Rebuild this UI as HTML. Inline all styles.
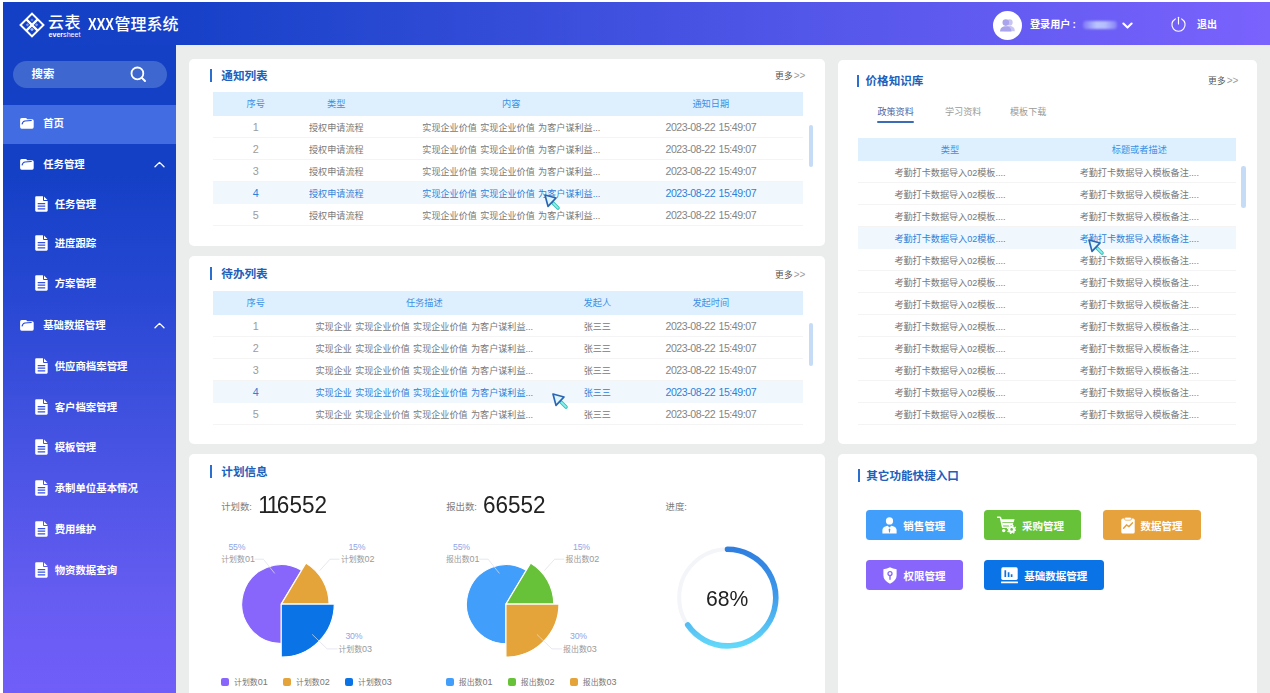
<!DOCTYPE html>
<html lang="zh-CN">
<head>
<meta charset="utf-8">
<title>XXX管理系统</title>
<style>
*{box-sizing:border-box;margin:0;padding:0}
html,body{width:1270px;height:693px;overflow:hidden;background:#fff}
body{font-family:"Liberation Sans","Noto Sans CJK SC",sans-serif;position:relative;color:#666}
.abs{position:absolute}
#app{position:absolute;left:3px;top:2px;width:1267px;height:691px;background:#ebecec;overflow:hidden}
/* header */
#hdr{position:absolute;left:0;top:0;width:1267px;height:43px;background:linear-gradient(90deg,rgb(20,64,198) 0%,rgb(21,64,199) 13%,rgb(42,73,211) 31.3%,rgb(82,86,233) 63%,rgb(122,98,253) 100%)}
#hdr .title{position:absolute;left:85.2px;top:11.4px;height:24px;line-height:24px;color:#fff;font-size:16px;font-weight:500;white-space:nowrap;letter-spacing:0}
#hdr .title .x{display:inline-block;font-size:16.9px;transform:scaleX(.767);transform-origin:left bottom;margin-right:-7.6px;font-weight:700;line-height:24px;vertical-align:baseline}
#hdr .brand{position:absolute;left:45px;top:11.5px;color:#fff;font-size:16px;font-weight:500;line-height:18px;letter-spacing:.6px;white-space:nowrap}
#hdr .brand2{position:absolute;left:45.5px;top:29.9px;color:#fff;font-size:7.1px;line-height:7px;font-weight:700;white-space:nowrap;letter-spacing:0}
#hdr .brand2 i{font-style:normal;font-weight:400}
#hdr .avatar{position:absolute;left:989.6px;top:8.5px;width:29px;height:29px;border-radius:50%;background:#fff}
#hdr .user{position:absolute;left:1027px;top:14px;line-height:18px;font-size:10.1px;font-weight:700;color:#fff;white-space:nowrap}
#hdr .uname{position:absolute;left:1079.5px;top:19.2px;width:34px;height:7.5px;border-radius:3px;background:linear-gradient(90deg,rgba(190,200,255,.25),rgba(200,215,255,.85) 40%,rgba(200,215,255,.8) 65%,rgba(190,200,255,.3));filter:blur(1.2px)}
#hdr .uname span{font-size:1px;color:transparent}
#hdr .logout{position:absolute;left:1194px;top:14px;line-height:18px;font-size:10px;font-weight:700;color:#fff;white-space:nowrap}
/* sidebar */
#side{position:absolute;left:0;top:43px;width:172.5px;height:648px;background:linear-gradient(180deg,rgb(20,64,198) 0%,rgb(20,64,198) 20%,rgb(40,72,211) 39.4%,rgb(73,84,228) 64%,rgb(102,92,242) 85.6%,rgb(113,94,249) 100%)}
#side .search{position:absolute;left:10px;top:16.2px;width:153.5px;height:26.9px;border-radius:13.5px;background:#3e67cf}
#side .search span{position:absolute;left:18.5px;top:4px;line-height:18px;font-size:11.4px;font-weight:700;color:#fff}
#side .active{position:absolute;left:0;top:60.2px;width:172.5px;height:39px;background:#416ce2}
.mi{position:absolute;left:0;width:172px;height:20px;line-height:20px;color:#fff;font-size:10.4px;font-weight:700;white-space:nowrap}
.mi.l1 span{position:absolute;left:40.2px;top:.8px}
.mi.l2 span{position:absolute;left:51.7px;top:.8px}
.mi svg{position:absolute}
/* cards */
.card{position:absolute;background:#fff;border-radius:5px}
.ct{position:absolute;left:21px;top:10px;height:14px;line-height:14px;font-size:11.6px;font-weight:700;color:#2060bb;white-space:nowrap;padding-left:11.3px}
.ct:before{content:"";position:absolute;left:0;top:0.5px;width:2px;height:12.5px;background:#2a6fd0}
.more{position:absolute;font-size:8.7px;line-height:12px;color:#555;white-space:nowrap;letter-spacing:.25px;margin:.8px 0 0 .6px}
.more i{font-style:normal;font-size:10px;color:#9c9c9c;letter-spacing:-.1px;margin-left:.8px}

/* tables */
.tb{position:absolute;left:24.3px;width:590px}
.tr{display:flex;height:22px;line-height:24.4px;font-size:9.1px;color:#787878;border-bottom:1px solid #f4f4f4;word-spacing:.8px;white-space:nowrap}
.tr.h{height:23.8px;line-height:24.3px;background:#def0fe;color:#3d8fe4;border-bottom:0;font-size:9.2px}
.tr.on{background:#f0f8fe;color:#2f80d6;border-bottom-color:#f0f8fe}
.tr div{text-align:center;flex:none;overflow:hidden}
.tr .n{color:#9c9c9c;font-size:10.8px;line-height:23.2px}
.tr.on .n{color:#2f80d6}
.tr .d{font-size:10.6px;letter-spacing:-0.45px;color:#858585;line-height:22.2px}
.tr.on .d{color:#2f80d6}
.sb{position:absolute;width:4.6px;border-radius:2.3px;background:#c6dbf6}
.cur{position:absolute}

/* card3 */
.lab{position:absolute;font-size:9.4px;line-height:12px;color:#7d7d7d;white-space:nowrap}
.big{position:absolute;font-size:23.6px;line-height:24px;color:#222;white-space:nowrap;transform:scaleX(.955);transform-origin:left bottom}
.big i{font-style:normal;letter-spacing:-2.5px;margin-left:-0.8px}
.pl{position:absolute;font-size:7.9px;line-height:10px;white-space:nowrap;color:#9a9a9a}
.pl.p{color:#8fa6e6;font-size:8.7px;letter-spacing:-.2px}
.pl b,.lg b{font-weight:400;font-size:9px}
.lg{position:absolute;font-size:7.9px;line-height:10px;white-space:nowrap;color:#777;padding-left:12.8px}
.lg:before{content:"";position:absolute;left:0;top:1px;width:8px;height:8px;border-radius:2px;background:var(--c)}

/* card4/5 */
.ct2{position:absolute;height:14px;line-height:14px;font-size:11.6px;font-weight:700;color:#2060bb;white-space:nowrap;padding-left:8.3px}
.ct2:before{content:"";position:absolute;left:0;top:.5px;width:2px;height:12.6px;background:#2a6fd0}
.tab{position:absolute;top:46px;font-size:9.1px;line-height:12px;color:#9b9b9b;white-space:nowrap}
.tab.on{color:#3f69ad}
.tab.on:after{content:"";position:absolute;left:0;right:0;top:15.3px;height:2px;border-radius:1px;background:#3b6cb6}
.btn{position:absolute;height:30.2px;border-radius:3.5px;color:#fff;font-size:10.5px;font-weight:700;line-height:30.2px;white-space:nowrap}
.btn span{position:absolute;top:0.9px}
.btn svg{margin-top:.5px}
.btn svg{position:absolute}
</style>
</head>
<body>
<div id="app">
  <div id="hdr">
    <svg class="abs" style="left:14.5px;top:8.8px" width="28" height="28" viewBox="-14 -14 28 28">
      <g transform="rotate(45)">
        <rect x="-8.1" y="-8.1" width="16.2" height="16.2" fill="none" stroke="#fff" stroke-width="2"/>
        <path d="M0 -8.3V8.3M-8.3 0H8.3" stroke="#fff" stroke-width="2.2"/>
        <rect x="1.9" y="1.9" width="2.6" height="2.6" fill="#dfe6ff" opacity=".75"/>
        <rect x="-4.5" y="1.9" width="2.4" height="2.4" fill="#dfe6ff" opacity=".55" transform="translate(0 0)"/>
        <rect x="1.9" y="-4.5" width="2.4" height="2.4" fill="#dfe6ff" opacity=".55"/>
        <rect x="-4.6" y="-4.6" width="2.2" height="2.2" fill="#dfe6ff" opacity=".35"/>
      </g>
    </svg>
    <div class="brand">云表</div>
    <div class="brand2">ever<i>sheet</i></div>
    <div class="title"><span class="x">XXX</span>管理系统</div>
    <div class="avatar">
      <svg class="abs" style="left:6px;top:6.5px" width="17" height="16" viewBox="0 0 17 16">
        <circle cx="10.6" cy="5.4" r="3.1" fill="#c9c5f3"/>
        <path d="M5.2 14.2c0-3.4 2.3-5.1 5.4-5.1s5.2 1.7 5.2 5.1z" fill="#c9c5f3"/>
        <circle cx="6.8" cy="5.6" r="3.3" fill="#aaa4ec"/>
        <path d="M1 14.6c0-3.6 2.5-5.4 5.8-5.4s5.6 1.8 5.6 5.4z" fill="#aaa4ec"/>
      </svg>
    </div>
    <div class="user">登录用户<span style="margin-left:2.2px">:</span></div>
    <div class="uname"><span>admin</span></div>
    <svg class="abs" style="left:1118.5px;top:19.5px" width="11" height="8" viewBox="0 0 11 8"><path d="M1.4 1.6L5.5 5.6L9.6 1.6" fill="none" stroke="#fff" stroke-width="2.1" stroke-linecap="round" stroke-linejoin="round"/></svg>
    <svg class="abs" style="left:1167.2px;top:13.9px" width="17" height="17" viewBox="0 0 17 17"><path d="M5.3 2.9A6.6 6.6 0 1 0 11.7 2.9" fill="none" stroke="#fff" stroke-width="1.15" stroke-linecap="round"/><path d="M8.5 1.2V8" stroke="#fff" stroke-width="1.15" stroke-linecap="round"/></svg>
    <div class="logout">退出</div>
  </div>
  <div id="side">
    <div class="search"><span>搜索</span><svg class="abs" style="left:117px;top:5px" width="17" height="17" viewBox="0 0 17 17"><circle cx="7.4" cy="7.4" r="5.9" fill="none" stroke="#fff" stroke-width="1.8"/><path d="M11.9 11.9L15 15" stroke="#fff" stroke-width="2" stroke-linecap="round"/></svg></div>
    <div class="active"></div>
    <div class="mi l1" style="top:68.6px"><svg style="left:17.4px;top:4.6px" width="14" height="11" viewBox="0 0 14 11"><path d="M1.6 0.1H5.6Q6.3 0.1 6.7 0.6L7.3 1.3H12.2Q13.7 1.3 13.7 2.8V9.1Q13.7 10.7 12.2 10.7H1.6Q0.1 10.7 0.1 9.1V1.6Q0.1 0.1 1.6 0.1Z" fill="#fff"/><path d="M2.1 6Q2.9 3.1 4.9 2.9L11.3 2.5" fill="none" stroke="#2447d8" stroke-width="1.05" stroke-linecap="round"/></svg><span>首页</span></div>
    <div class="mi l1" style="top:109.3px"><svg style="left:17.4px;top:4.6px" width="14" height="11" viewBox="0 0 14 11"><path d="M1.6 0.1H5.6Q6.3 0.1 6.7 0.6L7.3 1.3H12.2Q13.7 1.3 13.7 2.8V9.1Q13.7 10.7 12.2 10.7H1.6Q0.1 10.7 0.1 9.1V1.6Q0.1 0.1 1.6 0.1Z" fill="#fff"/><path d="M2.1 6Q2.9 3.1 4.9 2.9L11.3 2.5" fill="none" stroke="#2447d8" stroke-width="1.05" stroke-linecap="round"/></svg><span>任务管理</span><svg style="left:151px;top:6.5px" width="11" height="7" viewBox="0 0 11 7"><path d="M1 5.8L5.5 1.4L10 5.8" fill="none" stroke="#fff" stroke-width="1.3" stroke-linecap="round" stroke-linejoin="round"/></svg></div>
    <div class="mi l2" style="top:149.3px"><svg style="left:31.7px;top:1.8px" width="13" height="16" viewBox="0 0 13 16"><path d="M1.3 0.2H8V3.9Q8 4.9 9 4.9H12.7V14.6Q12.7 15.7 11.6 15.7H1.3Q0.2 15.7 0.2 14.6V1.3Q0.2 0.2 1.3 0.2ZM9 0.4L12.5 3.9H9Z" fill="#fff"/><path d="M2.7 7.6H10.2M2.7 10.2H10.2M2.7 12.8H10.2" stroke="#3550e2" stroke-width="1.25"/></svg><span>任务管理</span></div>
    <div class="mi l2" style="top:188.6px"><svg style="left:31.7px;top:1.8px" width="13" height="16" viewBox="0 0 13 16"><path d="M1.3 0.2H8V3.9Q8 4.9 9 4.9H12.7V14.6Q12.7 15.7 11.6 15.7H1.3Q0.2 15.7 0.2 14.6V1.3Q0.2 0.2 1.3 0.2ZM9 0.4L12.5 3.9H9Z" fill="#fff"/><path d="M2.7 7.6H10.2M2.7 10.2H10.2M2.7 12.8H10.2" stroke="#3550e2" stroke-width="1.25"/></svg><span>进度跟踪</span></div>
    <div class="mi l2" style="top:228.6px"><svg style="left:31.7px;top:1.8px" width="13" height="16" viewBox="0 0 13 16"><path d="M1.3 0.2H8V3.9Q8 4.9 9 4.9H12.7V14.6Q12.7 15.7 11.6 15.7H1.3Q0.2 15.7 0.2 14.6V1.3Q0.2 0.2 1.3 0.2ZM9 0.4L12.5 3.9H9Z" fill="#fff"/><path d="M2.7 7.6H10.2M2.7 10.2H10.2M2.7 12.8H10.2" stroke="#3550e2" stroke-width="1.25"/></svg><span>方案管理</span></div>
    <div class="mi l1" style="top:270.3px"><svg style="left:17.4px;top:4.6px" width="14" height="11" viewBox="0 0 14 11"><path d="M1.6 0.1H5.6Q6.3 0.1 6.7 0.6L7.3 1.3H12.2Q13.7 1.3 13.7 2.8V9.1Q13.7 10.7 12.2 10.7H1.6Q0.1 10.7 0.1 9.1V1.6Q0.1 0.1 1.6 0.1Z" fill="#fff"/><path d="M2.1 6Q2.9 3.1 4.9 2.9L11.3 2.5" fill="none" stroke="#2447d8" stroke-width="1.05" stroke-linecap="round"/></svg><span>基础数据管理</span><svg style="left:151px;top:6.5px" width="11" height="7" viewBox="0 0 11 7"><path d="M1 5.8L5.5 1.4L10 5.8" fill="none" stroke="#fff" stroke-width="1.3" stroke-linecap="round" stroke-linejoin="round"/></svg></div>
    <div class="mi l2" style="top:311.0px"><svg style="left:31.7px;top:1.8px" width="13" height="16" viewBox="0 0 13 16"><path d="M1.3 0.2H8V3.9Q8 4.9 9 4.9H12.7V14.6Q12.7 15.7 11.6 15.7H1.3Q0.2 15.7 0.2 14.6V1.3Q0.2 0.2 1.3 0.2ZM9 0.4L12.5 3.9H9Z" fill="#fff"/><path d="M2.7 7.6H10.2M2.7 10.2H10.2M2.7 12.8H10.2" stroke="#3550e2" stroke-width="1.25"/></svg><span>供应商档案管理</span></div>
    <div class="mi l2" style="top:351.8px"><svg style="left:31.7px;top:1.8px" width="13" height="16" viewBox="0 0 13 16"><path d="M1.3 0.2H8V3.9Q8 4.9 9 4.9H12.7V14.6Q12.7 15.7 11.6 15.7H1.3Q0.2 15.7 0.2 14.6V1.3Q0.2 0.2 1.3 0.2ZM9 0.4L12.5 3.9H9Z" fill="#fff"/><path d="M2.7 7.6H10.2M2.7 10.2H10.2M2.7 12.8H10.2" stroke="#3550e2" stroke-width="1.25"/></svg><span>客户档案管理</span></div>
    <div class="mi l2" style="top:392.4px"><svg style="left:31.7px;top:1.8px" width="13" height="16" viewBox="0 0 13 16"><path d="M1.3 0.2H8V3.9Q8 4.9 9 4.9H12.7V14.6Q12.7 15.7 11.6 15.7H1.3Q0.2 15.7 0.2 14.6V1.3Q0.2 0.2 1.3 0.2ZM9 0.4L12.5 3.9H9Z" fill="#fff"/><path d="M2.7 7.6H10.2M2.7 10.2H10.2M2.7 12.8H10.2" stroke="#3550e2" stroke-width="1.25"/></svg><span>模板管理</span></div>
    <div class="mi l2" style="top:433.2px"><svg style="left:31.7px;top:1.8px" width="13" height="16" viewBox="0 0 13 16"><path d="M1.3 0.2H8V3.9Q8 4.9 9 4.9H12.7V14.6Q12.7 15.7 11.6 15.7H1.3Q0.2 15.7 0.2 14.6V1.3Q0.2 0.2 1.3 0.2ZM9 0.4L12.5 3.9H9Z" fill="#fff"/><path d="M2.7 7.6H10.2M2.7 10.2H10.2M2.7 12.8H10.2" stroke="#3550e2" stroke-width="1.25"/></svg><span>承制单位基本情况</span></div>
    <div class="mi l2" style="top:474.0px"><svg style="left:31.7px;top:1.8px" width="13" height="16" viewBox="0 0 13 16"><path d="M1.3 0.2H8V3.9Q8 4.9 9 4.9H12.7V14.6Q12.7 15.7 11.6 15.7H1.3Q0.2 15.7 0.2 14.6V1.3Q0.2 0.2 1.3 0.2ZM9 0.4L12.5 3.9H9Z" fill="#fff"/><path d="M2.7 7.6H10.2M2.7 10.2H10.2M2.7 12.8H10.2" stroke="#3550e2" stroke-width="1.25"/></svg><span>费用维护</span></div>
    <div class="mi l2" style="top:514.8px"><svg style="left:31.7px;top:1.8px" width="13" height="16" viewBox="0 0 13 16"><path d="M1.3 0.2H8V3.9Q8 4.9 9 4.9H12.7V14.6Q12.7 15.7 11.6 15.7H1.3Q0.2 15.7 0.2 14.6V1.3Q0.2 0.2 1.3 0.2ZM9 0.4L12.5 3.9H9Z" fill="#fff"/><path d="M2.7 7.6H10.2M2.7 10.2H10.2M2.7 12.8H10.2" stroke="#3550e2" stroke-width="1.25"/></svg><span>物资数据查询</span></div>
  </div>
  <div class="card" id="c1" style="left:186px;top:56.5px;width:635.5px;height:187px">
    <div class="ct">通知列表</div>
    <div class="more" style="left:585.5px;top:10.7px">更多<i>&gt;&gt;</i></div>
    <div class="tb" style="top:33.5px">
      <div class="tr h"><div style="width:85px">序号</div><div style="width:76px">类型</div><div style="width:274px">内容</div><div style="width:125px">通知日期</div></div>
      <div class="tr"><div class="n" style="width:85px">1</div><div style="width:76px">授权申请流程</div><div style="width:274px">实现企业价值 实现企业价值 为客户谋利益...</div><div class="d" style="width:125px">2023-08-22 15:49:07</div></div>
      <div class="tr"><div class="n" style="width:85px">2</div><div style="width:76px">授权申请流程</div><div style="width:274px">实现企业价值 实现企业价值 为客户谋利益...</div><div class="d" style="width:125px">2023-08-22 15:49:07</div></div>
      <div class="tr"><div class="n" style="width:85px">3</div><div style="width:76px">授权申请流程</div><div style="width:274px">实现企业价值 实现企业价值 为客户谋利益...</div><div class="d" style="width:125px">2023-08-22 15:49:07</div></div>
      <div class="tr on"><div class="n" style="width:85px">4</div><div style="width:76px">授权申请流程</div><div style="width:274px">实现企业价值 实现企业价值 为客户谋利益...</div><div class="d" style="width:125px">2023-08-22 15:49:07</div></div>
      <div class="tr"><div class="n" style="width:85px">5</div><div style="width:76px">授权申请流程</div><div style="width:274px">实现企业价值 实现企业价值 为客户谋利益...</div><div class="d" style="width:125px">2023-08-22 15:49:07</div></div>
    </div>
    <div class="sb" style="left:619.5px;top:66px;height:42.5px"></div>
    <svg class="cur" style="left:354.2px;top:134.2px" width="18" height="18" viewBox="0 0 18 18"><path d="M10.2 10.2L15 15" stroke="#34c3b3" stroke-width="3.6" stroke-linecap="round"/><path d="M10.4 10.4L14.9 14.9" stroke="#8feef2" stroke-width="1.7" stroke-linecap="round"/><path d="M2 2L13 5L9.3 8.9L5 13.4Z" fill="#dff6ff" stroke="#2a66b2" stroke-width="1.7" stroke-linejoin="round"/></svg>
  </div>
  <div class="card" id="c2" style="left:186px;top:254px;width:635.5px;height:187.5px">
    <div class="ct" style="top:10.8px">待办列表</div>
    <div class="more" style="left:585.5px;top:12.3px">更多<i>&gt;&gt;</i></div>
    <div class="tb" style="top:35.2px">
      <div class="tr h"><div style="width:85px">序号</div><div style="width:252px">任务描述</div><div style="width:94px">发起人</div><div style="width:133px">发起时间</div></div>
      <div class="tr"><div class="n" style="width:85px">1</div><div style="width:252px">实现企业 实现企业价值 实现企业价值 为客户谋利益...</div><div style="width:94px">张三三</div><div class="d" style="width:133px">2023-08-22 15:49:07</div></div>
      <div class="tr"><div class="n" style="width:85px">2</div><div style="width:252px">实现企业 实现企业价值 实现企业价值 为客户谋利益...</div><div style="width:94px">张三三</div><div class="d" style="width:133px">2023-08-22 15:49:07</div></div>
      <div class="tr"><div class="n" style="width:85px">3</div><div style="width:252px">实现企业 实现企业价值 实现企业价值 为客户谋利益...</div><div style="width:94px">张三三</div><div class="d" style="width:133px">2023-08-22 15:49:07</div></div>
      <div class="tr on"><div class="n" style="width:85px">4</div><div style="width:252px">实现企业 实现企业价值 实现企业价值 为客户谋利益...</div><div style="width:94px">张三三</div><div class="d" style="width:133px">2023-08-22 15:49:07</div></div>
      <div class="tr"><div class="n" style="width:85px">5</div><div style="width:252px">实现企业 实现企业价值 实现企业价值 为客户谋利益...</div><div style="width:94px">张三三</div><div class="d" style="width:133px">2023-08-22 15:49:07</div></div>
    </div>
    <div class="sb" style="left:619.5px;top:66.5px;height:43px"></div>
    <svg class="cur" style="left:362.2px;top:136.2px" width="18" height="18" viewBox="0 0 18 18"><path d="M10.2 10.2L15 15" stroke="#34c3b3" stroke-width="3.6" stroke-linecap="round"/><path d="M10.4 10.4L14.9 14.9" stroke="#8feef2" stroke-width="1.7" stroke-linecap="round"/><path d="M2 2L13 5L9.3 8.9L5 13.4Z" fill="#dff6ff" stroke="#2a66b2" stroke-width="1.7" stroke-linejoin="round"/></svg>
  </div>
  <div class="card" id="c3" style="left:186px;top:452px;width:635.5px;height:245px">
    <div class="ct" style="top:10.8px">计划信息</div>
    <svg class="abs" style="left:0;top:0" width="635" height="241" viewBox="0 0 635 241"><defs><linearGradient id="rg" x1="0" y1="0" x2="0" y2="1"><stop offset="0" stop-color="#2f7fe0"/><stop offset=".45" stop-color="#3d97ea"/><stop offset="1" stop-color="#63d8f9"/></linearGradient></defs><path d="M92.25 150.10L92.25 189.60A39.50 39.50 0 1 1 112.59 116.24Z" fill="#8866fb" stroke="#fff" stroke-width="1.1" stroke-linejoin="round"/><path d="M92.25 150.10L116.87 109.13A47.80 47.80 0 0 1 140.05 150.10Z" fill="#e4a43a" stroke="#fff" stroke-width="1.1" stroke-linejoin="round"/><path d="M92.25 150.10L145.25 150.10A53.00 53.00 0 0 1 92.25 203.10Z" fill="#0a74e6" stroke="#fff" stroke-width="1.1" stroke-linejoin="round"/><path d="M65.5 105.2L74.4 105.2L85.7 119.4" fill="none" stroke="#dcdfea" stroke-width=".8" opacity=".9"/><path d="M150.5 105.2L141.0 105.2L130.7 116.6" fill="none" stroke="#dcdfea" stroke-width=".8" opacity=".9"/><path d="M148.5 194.9L138.2 194.9L123.2 180.4" fill="none" stroke="#dcdfea" stroke-width=".8" opacity=".9"/><path d="M316.95 150.10L316.95 189.60A39.50 39.50 0 1 1 337.29 116.24Z" fill="#429efb" stroke="#fff" stroke-width="1.1" stroke-linejoin="round"/><path d="M316.95 150.10L341.57 109.13A47.80 47.80 0 0 1 364.75 150.10Z" fill="#67c23a" stroke="#fff" stroke-width="1.1" stroke-linejoin="round"/><path d="M316.95 150.10L369.95 150.10A53.00 53.00 0 0 1 316.95 203.10Z" fill="#e4a43a" stroke="#fff" stroke-width="1.1" stroke-linejoin="round"/><path d="M290.2 105.2L299.1 105.2L310.4 119.4" fill="none" stroke="#dcdfea" stroke-width=".8" opacity=".9"/><path d="M375.2 105.2L365.7 105.2L355.4 116.6" fill="none" stroke="#dcdfea" stroke-width=".8" opacity=".9"/><path d="M373.2 194.9L362.9 194.9L347.9 180.4" fill="none" stroke="#dcdfea" stroke-width=".8" opacity=".9"/><circle cx="538.5" cy="143.6" r="48.3" fill="none" stroke="#f4f5f8" stroke-width="4"/><path d="M538.50 95.30A48.30 48.30 0 1 1 498.69 170.96" fill="none" stroke="url(#rg)" stroke-width="5.6" stroke-linecap="round"/></svg>
    <div class="lab" style="left:32.2px;top:46.6px">计划数:</div>
    <div class="big" style="left:69.7px;top:39.3px"><i>11</i>6552</div>
    <div class="lab" style="left:257.2px;top:46.6px">报出数:</div>
    <div class="big" style="left:294.4px;top:39.3px">66552</div>
    <div class="lab" style="left:476.5px;top:46.8px">进度:</div>
    <div class="big" style="left:516.6px;top:132.8px;font-size:22px;transform:scaleX(.96)">68%</div>
    <div class="pl p" style="left:39.4px;top:88.2px">55%</div>
    <div class="pl" style="left:32.2px;top:100.4px">计划数<b>01</b></div>
    <div class="pl p" style="left:159.4px;top:88.2px">15%</div>
    <div class="pl" style="left:151.9px;top:100.4px">计划数<b>02</b></div>
    <div class="pl p" style="left:156.4px;top:177.4px">30%</div>
    <div class="pl" style="left:149.4px;top:189.8px">计划数<b>03</b></div>
    <div class="pl p" style="left:264.1px;top:88.2px">55%</div>
    <div class="pl" style="left:256.9px;top:100.4px">报出数<b>01</b></div>
    <div class="pl p" style="left:384.1px;top:88.2px">15%</div>
    <div class="pl" style="left:376.6px;top:100.4px">报出数<b>02</b></div>
    <div class="pl p" style="left:381.1px;top:177.4px">30%</div>
    <div class="pl" style="left:374.1px;top:189.8px">报出数<b>03</b></div>
    <div class="lg" style="left:32.2px;top:223.2px;--c:#8866fb">计划数<b>01</b></div>
    <div class="lg" style="left:94.2px;top:223.2px;--c:#e4a43a">计划数<b>02</b></div>
    <div class="lg" style="left:156.2px;top:223.2px;--c:#0a74e6">计划数<b>03</b></div>
    <div class="lg" style="left:257.0px;top:223.2px;--c:#429efb">报出数<b>01</b></div>
    <div class="lg" style="left:319.0px;top:223.2px;--c:#67c23a">报出数<b>02</b></div>
    <div class="lg" style="left:381.0px;top:223.2px;--c:#e4a43a">报出数<b>03</b></div>
  </div>
  <div class="card" id="c4" style="left:834.5px;top:57.5px;width:419px;height:384px">
    <div class="ct2" style="left:19.7px;top:14.8px">价格知识库</div>
    <div class="more" style="left:370px;top:15.2px">更多<i>&gt;&gt;</i></div>
    <div class="tab on" style="left:39.9px">政策资料</div>
    <div class="tab" style="left:107.5px">学习资料</div>
    <div class="tab" style="left:172.5px">模板下载</div>
    <div class="tb" style="left:20px;top:78.2px;width:378.6px">
      <div class="tr h"><div style="width:185px">类型</div><div style="width:193.6px">标题或者描述</div></div>
      <div class="tr"><div style="width:185px">考勤打卡数据导入02模板....</div><div style="width:193.6px">考勤打卡数据导入模板备注....</div></div>
      <div class="tr"><div style="width:185px">考勤打卡数据导入02模板....</div><div style="width:193.6px">考勤打卡数据导入模板备注....</div></div>
      <div class="tr"><div style="width:185px">考勤打卡数据导入02模板....</div><div style="width:193.6px">考勤打卡数据导入模板备注....</div></div>
      <div class="tr on"><div style="width:185px">考勤打卡数据导入02模板....</div><div style="width:193.6px">考勤打卡数据导入模板备注....</div></div>
      <div class="tr"><div style="width:185px">考勤打卡数据导入02模板....</div><div style="width:193.6px">考勤打卡数据导入模板备注....</div></div>
      <div class="tr"><div style="width:185px">考勤打卡数据导入02模板....</div><div style="width:193.6px">考勤打卡数据导入模板备注....</div></div>
      <div class="tr"><div style="width:185px">考勤打卡数据导入02模板....</div><div style="width:193.6px">考勤打卡数据导入模板备注....</div></div>
      <div class="tr"><div style="width:185px">考勤打卡数据导入02模板....</div><div style="width:193.6px">考勤打卡数据导入模板备注....</div></div>
      <div class="tr"><div style="width:185px">考勤打卡数据导入02模板....</div><div style="width:193.6px">考勤打卡数据导入模板备注....</div></div>
      <div class="tr"><div style="width:185px">考勤打卡数据导入02模板....</div><div style="width:193.6px">考勤打卡数据导入模板备注....</div></div>
      <div class="tr"><div style="width:185px">考勤打卡数据导入02模板....</div><div style="width:193.6px">考勤打卡数据导入模板备注....</div></div>
      <div class="tr"><div style="width:185px">考勤打卡数据导入02模板....</div><div style="width:193.6px">考勤打卡数据导入模板备注....</div></div>
    </div>
    <div class="sb" style="left:403.8px;top:106.5px;height:41.5px"></div>
    <svg class="cur" style="left:249.7px;top:178.3px" width="18" height="18" viewBox="0 0 18 18"><path d="M10.2 10.2L15 15" stroke="#34c3b3" stroke-width="3.6" stroke-linecap="round"/><path d="M10.4 10.4L14.9 14.9" stroke="#8feef2" stroke-width="1.7" stroke-linecap="round"/><path d="M2 2L13 5L9.3 8.9L5 13.4Z" fill="#dff6ff" stroke="#2a66b2" stroke-width="1.7" stroke-linejoin="round"/></svg>
  </div>
  <div class="card" id="c5" style="left:834.5px;top:452px;width:419px;height:245px">
    <div class="ct2" style="left:20.4px;top:14.5px">其它功能快捷入口</div>
    <div class="btn" style="left:28px;top:55.8px;width:97.5px;background:#429efb"><svg style="left:16.3px;top:6.6px" width="15" height="17" viewBox="0 0 15 17"><circle cx="7.5" cy="3.9" r="3.6" fill="#fff"/><path d="M0.4 16.4V13.2Q0.4 10.3 3.3 9.4L5.6 8.7L7.5 10.6L9.4 8.7L11.7 9.4Q14.6 10.3 14.6 13.2V16.4Z" fill="#fff"/><path d="M7.5 11.3L8.3 12.4L7.9 15.6H7.1L6.7 12.4Z" fill="#429efb"/></svg><span style="left:37.8px">销售管理</span></div>
    <div class="btn" style="left:146.6px;top:55.8px;width:97.4px;background:#67c23a"><svg style="left:13px;top:5.7px" width="19" height="18" viewBox="0 0 19 18"><path d="M0.6 1.2H2.6Q3.4 1.2 3.6 2L5.6 11.2H13.2" fill="none" stroke="#fff" stroke-width="1.5" stroke-linecap="round" stroke-linejoin="round"/><path d="M4.2 3.3H17.6L16.6 6.2H4.9ZM5.2 7H16.3L15.6 9.6H5.8Z" fill="#fff"/><circle cx="6.7" cy="14.6" r="1.7" fill="#fff"/><circle cx="14.6" cy="13.4" r="3.5" fill="#fff"/><circle cx="14.6" cy="13.4" r="4.1" fill="none" stroke="#fff" stroke-width="1.3" stroke-dasharray="1.5 1.72"/><circle cx="14.6" cy="13.4" r="1.3" fill="#67c23a"/></svg><span style="left:37.8px">采购管理</span></div>
    <div class="btn" style="left:265.5px;top:55.8px;width:97.5px;background:#e6a23c"><svg style="left:18px;top:7.2px" width="14" height="17" viewBox="0 0 14 17"><rect x="0.3" y="1.6" width="13.4" height="15" rx="1.6" fill="#fff"/><rect x="3.6" y="0.2" width="6.8" height="3" rx="1.2" fill="#fff" stroke="#e6a23c" stroke-width=".7"/><path d="M2.6 11.2L5.5 7.9L8 9.6L11.4 5.9" fill="none" stroke="#e6a23c" stroke-width="1.5" stroke-linecap="round" stroke-linejoin="round"/></svg><span style="left:37.6px">数据管理</span></div>
    <div class="btn" style="left:28px;top:105.9px;width:97.4px;background:#8866fb"><svg style="left:17px;top:6.8px" width="14" height="17" viewBox="0 0 14 17"><path d="M7 0.3Q9.8 2 13.6 2.2V8.6Q13.6 13.6 7 16.7Q0.4 13.6 0.4 8.6V2.2Q4.2 2 7 0.3Z" fill="#fff"/><circle cx="7" cy="6.6" r="2" fill="none" stroke="#8866fb" stroke-width="1.3"/><path d="M7 8.6V12.2" stroke="#8866fb" stroke-width="1.4" stroke-linecap="round"/></svg><span style="left:38px">权限管理</span></div>
    <div class="btn" style="left:146.9px;top:105.9px;width:120.1px;background:#0a74e6"><svg style="left:16.8px;top:6.8px" width="17" height="17" viewBox="0 0 17 17"><rect x="0.3" y="0.3" width="16.4" height="12.6" rx="1.6" fill="#fff"/><path d="M4.3 3.3V10.1M7.6 5.2V10.1M10.6 7.2V10.1" stroke="#0a74e6" stroke-width="1.7"/><path d="M0.6 15.4H16.4" stroke="#fff" stroke-width="1.6" stroke-linecap="round"/></svg><span style="left:39.8px">基础数据管理</span></div>
  </div>
</div>
</body>
</html>
